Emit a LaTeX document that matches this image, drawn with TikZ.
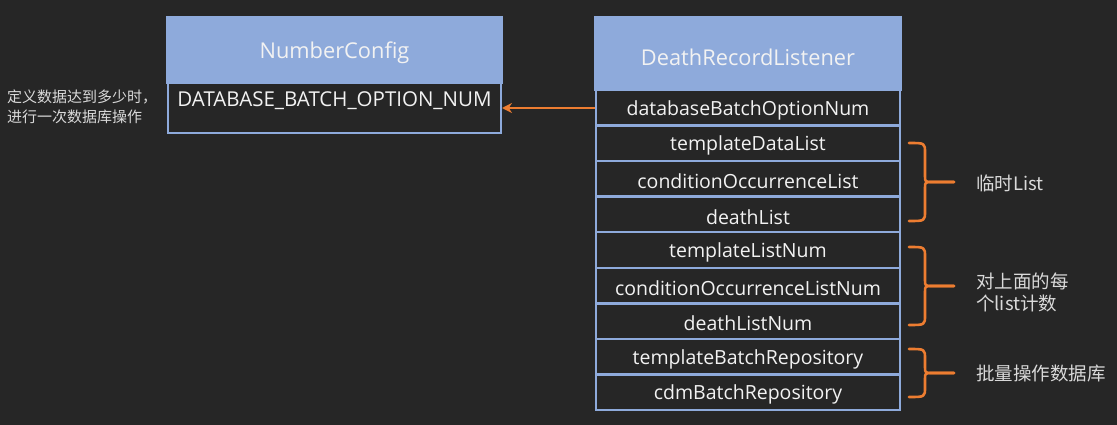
\documentclass[tikz,border=0pt]{standalone}
\usepackage{fontspec}
\setmainfont{Open Sans}
\newfontfamily\cjk{Noto Sans CJK SC}
\usetikzlibrary{arrows.meta}
\definecolor{bg}{HTML}{262626}
\definecolor{hdr}{HTML}{8EAADB}
\definecolor{org}{HTML}{ED7D31}
\definecolor{txt}{HTML}{F2F2F2}
\definecolor{lbl}{HTML}{D9D9D9}
\tikzset{
  hdrbox/.style={draw=hdr, fill=hdr, line width=2pt},
  titletext/.style={text=txt, font=\fontsize{21.8}{26}\selectfont, inner sep=0pt},
  rowbox/.style={draw=hdr, fill=bg, line width=2.5pt},
  rowtext/.style={text=txt, font=\fontsize{19.5}{23}\selectfont, inner sep=0pt},
  note/.style={text=lbl, font=\cjk\fontsize{18.5}{22}\selectfont, align=left, anchor=west, inner sep=0pt},
  brace/.style={draw=org, line width=2.6pt, line cap=round, line join=round},
}
\begin{document}
\begin{tikzpicture}[x=1pt,y=-1pt]
\fill[bg] (0,0) rectangle (1117,425);
\useasboundingbox (0,0) rectangle (1117,425);
% NumberConfig
\draw[hdrbox] (167,17) rectangle (502,83);
\node[titletext] (nch) at (334.5,52.5) {NumberConfig};
\draw[rowbox] (168,83) rectangle (501,133);
\coordinate (ncr) at (502,108);
\node[rowtext, font=\fontsize{20.5}{24}\selectfont] (ncrow) at (334.5,101) {DATABASE\_BATCH\_OPTION\_NUM};
\node[note, font=\cjk\fontsize{15}{20}\selectfont] (ncnote) at (7,107) {定义数据达到多少时，\\进行一次数据库操作};
% DeathRecordListener
\draw[hdrbox] (595,17) rectangle (901,90);
\node[titletext] (drlh) at (748,57) {DeathRecordListener};
\foreach \t [count=\i from 0] in {databaseBatchOptionNum,templateDataList,conditionOccurrenceList,deathList,templateListNum,conditionOccurrenceListNum,deathListNum,templateBatchRepository,cdmBatchRepository}{
  \pgfmathsetmacro{\ya}{90+\i*35.56}
  \pgfmathsetmacro{\yb}{90+(\i+1)*35.56}
  \pgfmathsetmacro{\ym}{90+(\i+0.5)*35.56+2.5}
  \draw[rowbox] (596,\ya) rectangle (900,\yb);
  \node[rowtext] (r\i) at (748,\ym) {\t};
}
\coordinate (r0w) at (595,108);
\draw[org, line width=2pt, -{Stealth[length=10pt,width=10pt]}] (r0w) -- (ncr);
% braces
\foreach \ta/\mi/\bo/\nm in {143/182/221/b1, 247/286/325/b2, 349/373/397/b3}{
  \draw[brace] (909,\ta) .. controls (925,\ta) and (925,\ta) .. (925,\ta+10) -- (925,\mi-6) .. controls (925,\mi) .. (933,\mi) -- (954,\mi);
  \draw[brace] (954,\mi) -- (933,\mi) .. controls (925,\mi) .. (925,\mi+6) -- (925,\bo-10) .. controls (925,\bo) and (925,\bo) .. (909,\bo);
}
\node[note] (l1) at (976,183) {临时List};
\node[note] (l2) at (976,292) {对上面的每\\个list计数};
\node[note] (l3) at (976,374) {批量操作数据库};
\end{tikzpicture}
\end{document}
